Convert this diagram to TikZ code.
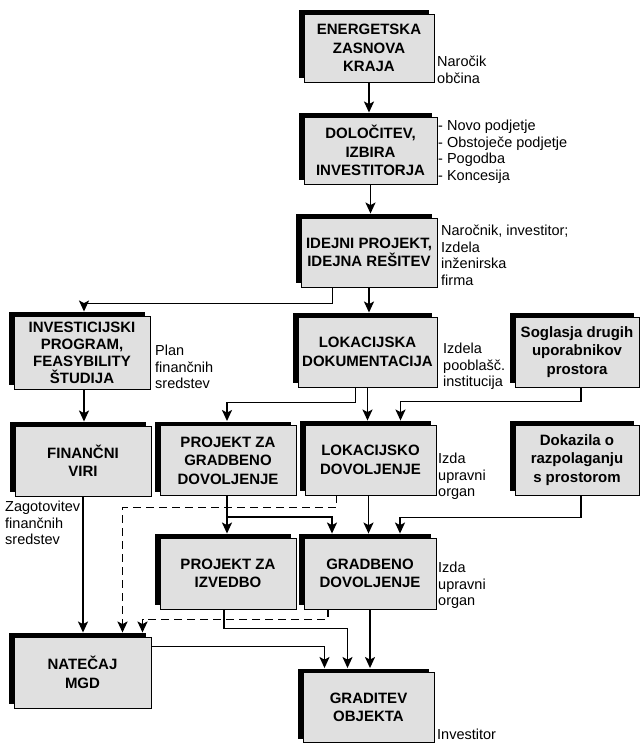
\documentclass[tikz,border=0pt]{standalone}
\usepackage{fontspec}
\setmainfont{Liberation Sans}
\definecolor{boxgrey}{RGB}{224,224,224}
\usetikzlibrary{arrows.meta, shadows}

\begin{document}
\begin{tikzpicture}[x=1pt, y=-1pt,
  stage/.style={draw=black, line width=0.9pt, fill=boxgrey, align=center, inner sep=1pt,
    minimum width=136pt, minimum height=70pt, font=\bfseries\fontsize{15}{18.5}\selectfont,
    general shadow={fill=black, shadow xshift=-5pt, shadow yshift=4pt}},
  note/.style={anchor=north west, align=left, inner sep=0pt, font=\fontsize{14.5}{16.5}\selectfont},
  flow/.style={line width=1.6pt, -{Stealth[length=11pt, width=10pt, inset=2.5pt]}},
  flowdash/.style={flow, line width=1.9pt, dash pattern=on 8pt off 5pt}]
  \useasboundingbox (0,0) rectangle (643,744);

  \node[stage, minimum width=130pt, minimum height=68pt] (energ) at (369,48) {ENERGETSKA\\ZASNOVA\\KRAJA};
  \node[stage, minimum width=133pt, minimum height=67pt] (doloc) at (370.5,150.5) {DOLOČITEV,\\IZBIRA\\INVESTITORJA};
  \node[stage, minimum height=69pt] (idejni) at (369,252.5) {IDEJNI PROJEKT,\\IDEJNA REŠITEV};
  \node[stage, minimum height=73pt, font=\bfseries\fontsize{15}{17}\selectfont] (invest) at (82,352.5) {INVESTICIJSKI\\PROGRAM,\\FEASYBILITY\\ŠTUDIJA};
  \node[stage, minimum width=139pt] (lokdok) at (367.5,352) {LOKACIJSKA\\DOKUMENTACIJA};
  \node[stage, minimum width=124pt] (soglasja) at (577,352) {Soglasja drugih\\uporabnikov\\prostora};
  \node[stage] (financni) at (83,461) {FINANČNI\\VIRI};
  \node[stage] (projgrad) at (228,460.5) {PROJEKT ZA\\GRADBENO\\DOVOLJENJE};
  \node[stage, minimum width=131pt] (lokdov) at (370.5,460) {LOKACIJSKO\\DOVOLJENJE};
  \node[stage, minimum width=124pt] (dokazila) at (577,460) {Dokazila o\\razpolaganju\\s prostorom};
  \node[stage, minimum height=71pt] (projizv) at (228,573.5) {PROJEKT ZA\\IZVEDBO};
  \node[stage, minimum width=132pt, minimum height=71pt] (gradov) at (370,573.5) {GRADBENO\\DOVOLJENJE};
  \node[stage, minimum width=137pt, minimum height=71pt] (natecaj) at (82.5,672.5) {NATEČAJ\\MGD};
  \node[stage, minimum width=131pt] (graditev) at (368.5,707.5) {GRADITEV\\OBJEKTA};

  \node[note] (narocik) at (437,56) {Naročik\\občina};
  \node[note] (oblike) at (438,120) {- Novo podjetje\\- Obstoječe podjetje\\- Pogodba\\- Koncesija};
  \node[note] (narocnik) at (441,225) {Naročnik, investitor;\\Izdela\\inženirska\\firma};
  \node[note] (plan) at (155,345) {Plan\\finančnih\\sredstev};
  \node[note] (izdela) at (443,343) {Izdela\\pooblašč.\\institucija};
  \node[note] (zagotovitev) at (5,501) {Zagotovitev\\finančnih\\sredstev};
  \node[note] (izdaA) at (438,453) {Izda\\upravni\\organ};
  \node[note] (izdaB) at (438,562) {Izda\\upravni\\organ};
  \node[note] (investitor) at (437,729) {Investitor};

  \draw[flow] (energ.south) -- ([yshift=4pt]energ.south |- doloc.north);
  \draw[flow] (doloc.south) -- ([yshift=4pt]doloc.south |- idejni.north);
  \draw[flow] (idejni.south) -- ([yshift=4pt]idejni.south |- lokdok.north);
  \draw[flow] ([xshift=32pt]idejni.south west) -- ++(0,16) -| ([xshift=2pt, yshift=4pt]invest.north);
  \draw[flow] ([xshift=2pt]invest.south) -- ([xshift=2pt, yshift=4pt]invest.south |- financni.north);
  \draw[flow] (lokdok.south) -- ([yshift=4pt]lokdok.south |- lokdov.north);
  \draw[flow] ([xshift=-12pt]lokdok.south) -- ++(0,15) -| ([xshift=-1pt, yshift=4pt]projgrad.north);
  \draw[flow] ([xshift=4pt]soglasja.south) -- ++(0,14) -| ([xshift=30pt, yshift=4pt]lokdov.north);
  \draw[flow] (financni.south) -- ([yshift=4pt]financni.south |- natecaj.north);
  \draw[flow] ([xshift=-1pt]projgrad.south) -- ([xshift=-1pt, yshift=4pt]projgrad.south |- projizv.north);
  \draw[flow] ([xshift=-1pt]projgrad.south) ++(0,21) -| ([xshift=-38pt, yshift=4pt]gradov.north);
  \draw[flow] ([xshift=-2pt]lokdov.south) -- ([xshift=-2pt, yshift=4pt]lokdov.south |- gradov.north);
  \draw[flow] ([xshift=4pt]dokazila.south) -- ++(0,22) -| ([xshift=30pt, yshift=4pt]gradov.north);
  \draw[flowdash] ([xshift=-34pt]lokdov.south) -- ++(0,12) -| ([xshift=40pt, yshift=4pt]natecaj.north);
  \draw[flowdash] ([xshift=-42pt]gradov.south) -- ++(0,10) -| ([xshift=60pt, yshift=4pt]natecaj.north);
  \draw[flow] ([xshift=-4pt]projizv.south) -- ++(0,19) -| ([xshift=-21pt, yshift=4pt]graditev.north);
  \draw[flow] ([yshift=26pt]natecaj.east) -| ([xshift=-44pt, yshift=4pt]graditev.north);
  \draw[flow] (gradov.south) -- ([yshift=4pt]gradov.south |- graditev.north);
\end{tikzpicture}
\end{document}
